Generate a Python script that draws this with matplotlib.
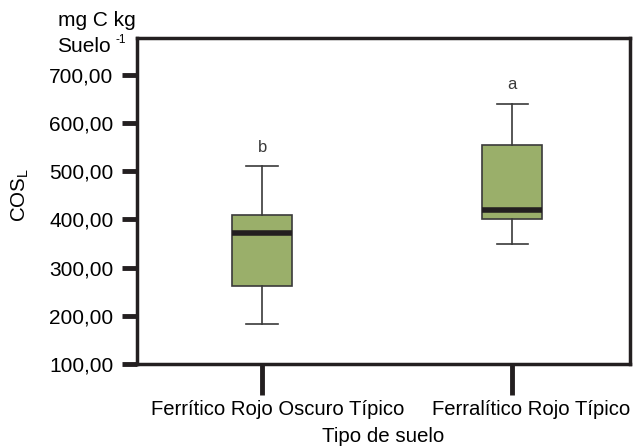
import matplotlib
matplotlib.use("Agg")
import matplotlib.pyplot as plt
import matplotlib.transforms as mtransforms

plt.rcParams['font.family'] = ['Liberation Sans', 'DejaVu Sans']

categorias = ["Ferrítico Rojo Oscuro Típico", "Ferralítico Rojo Típico"]
bigote_inf = [182, 348]
q1 = [262, 401]
mediana = [371, 419]
q3 = [410, 555]
bigote_sup = [510, 640]
letras = ["b", "a"]
yticks = [100, 200, 300, 400, 500, 600, 700]

negro = "#231f20"
gris = "#3a3a3a"
verde = "#9aaf6a"

fig = plt.figure(figsize=(6.33, 4.46), dpi=100)
ax = fig.add_axes([137/633, 82/446, 493/633, 326/446])

stats = []
for i in range(len(categorias)):
    stats.append(dict(whislo=bigote_inf[i], q1=q1[i], med=mediana[i],
                      q3=q3[i], whishi=bigote_sup[i], fliers=[]))

ax.bxp(stats, positions=[1, 2], widths=0.24, patch_artist=True,
       showfliers=False,
       boxprops=dict(facecolor=verde, edgecolor=gris, linewidth=1.2),
       medianprops=dict(color=negro, linewidth=4),
       whiskerprops=dict(color=gris, linewidth=1.2),
       capprops=dict(color=gris, linewidth=1.2),
       capwidths=0.125)

for i, l in enumerate(letras):
    ax.text(i + 1, bigote_sup[i] + 24, l, ha="center", va="bottom",
            fontsize=12, color=gris)

ax.set_xlim(0.5, 2.47)
ax.set_ylim(100, 776)
ax.set_yticks(yticks)
ax.set_yticklabels([f"{v:.2f}".replace(".", ",") for v in yticks], fontsize=15)
ax.set_xticks([1, 2])
ax.set_xticklabels(categorias, fontsize=14.6)

for s in ax.spines.values():
    s.set_linewidth(2.5)
    s.set_color(negro)
ax.tick_params(axis="y", length=11, width=3.5, color=negro, pad=6)
ax.tick_params(axis="x", length=22, width=3.5, color=negro, pad=4)

# las etiquetas del eje x estan corridas a la derecha en el original
desplaz = [16/100, 19/100]
for lab, d in zip(ax.get_xticklabels(), desplaz):
    lab.set_transform(lab.get_transform() +
                      mtransforms.ScaledTranslation(d, 0, fig.dpi_scale_trans))

ax.set_xlabel("Tipo de suelo", fontsize=14.8, labelpad=6)
ax.set_ylabel("COS$_\\mathregular{L}$", fontsize=14.8)
ax.yaxis.set_label_coords(-0.214, 0.52)

fig.text(97/633, 1 - 20/446, "mg C kg", fontsize=15, ha="center", va="center")
fig.text(84/633, 1 - 46/446, "Suelo", fontsize=15, ha="center", va="center")
fig.text(121/633, 1 - 40/446, "-1", fontsize=8.5, ha="center", va="center")

fig.savefig("out.png", dpi=100)
